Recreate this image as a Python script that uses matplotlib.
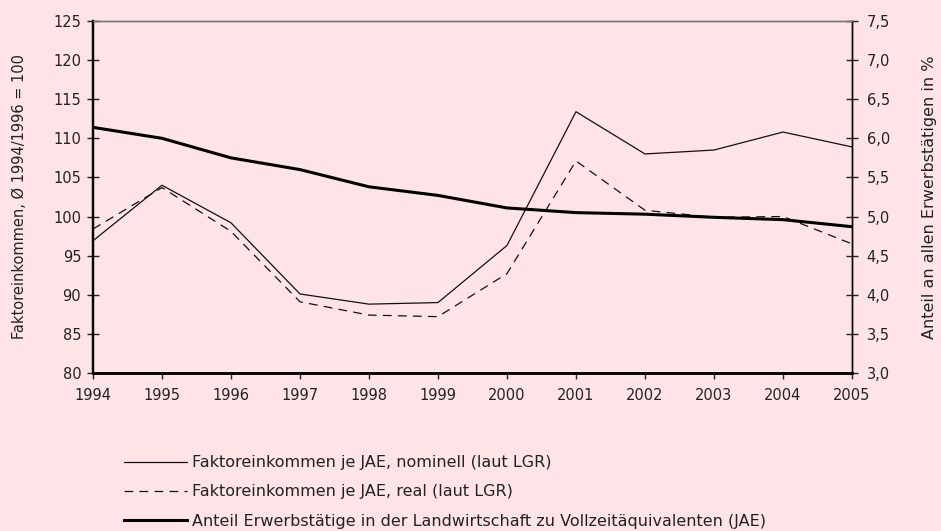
import matplotlib
matplotlib.use('Agg')
import matplotlib.pyplot as plt
from matplotlib.ticker import FuncFormatter
import numpy as np

plt.rcParams['font.family'] = ['DejaVu Sans']

years = [1994, 1995, 1996, 1997, 1998, 1999, 2000, 2001, 2002, 2003, 2004, 2005]
nominell = [96.9, 104.0, 99.2, 90.1, 88.8, 89.0, 96.3, 113.4, 108.0, 108.5, 110.8, 108.9]
real = [98.4, 103.7, 98.1, 89.1, 87.4, 87.2, 92.7, 107.1, 100.8, 99.9, 100.0, 96.5]
anteil = [6.14, 6.00, 5.75, 5.60, 5.38, 5.27, 5.11, 5.05, 5.03, 4.99, 4.96, 4.87]

labels = ['Faktoreinkommen je JAE, nominell (laut LGR)',
          'Faktoreinkommen je JAE, real (laut LGR)',
          'Anteil Erwerbstätige in der Landwirtschaft zu Vollzeitäquivalenten (JAE)']

bg = '#fee4e7'
fig = plt.figure(figsize=(9.41, 5.31), dpi=100, facecolor=bg)
ax = fig.add_axes([0.0988, 0.2976, 0.8066, 0.6629])
ax.set_facecolor(bg)
ax2 = ax.twinx()

l1, = ax.plot(years, nominell, color='#111111', lw=0.9)
l2, = ax.plot(years, real, color='#111111', lw=0.9, linestyle=(0, (7, 5)))
l3, = ax2.plot(years, anteil, color='#000000', lw=2.2)

ax.set_xlim(1994, 2005)
ax.set_ylim(80, 125)
ax2.set_ylim(3.0, 7.5)
ax.set_xticks(years)
ax.set_yticks(np.arange(80, 126, 5))
ax2.set_yticks(np.arange(3.0, 7.51, 0.5))
ax2.yaxis.set_major_formatter(FuncFormatter(lambda v, p: ('%.1f' % v).replace('.', ',')))

fs = 10.5
tc = '#222222'
ax.tick_params(axis='x', direction='out', length=4, width=1, labelsize=fs, pad=7, colors=tc)
ax.tick_params(axis='y', direction='inout', length=9, width=1, labelsize=fs, pad=4, colors=tc)
ax2.tick_params(axis='y', direction='inout', length=9, width=1, labelsize=fs, pad=6, colors=tc)

for a in (ax, ax2):
    a.spines['top'].set_color('#777777')
    a.spines['top'].set_linewidth(1.0)
    a.spines['left'].set_linewidth(1.6)
    a.spines['bottom'].set_linewidth(1.8)
    a.spines['right'].set_linewidth(1.0)
    for s in ('left', 'bottom', 'right'):
        a.spines[s].set_color('black')

ax.set_ylabel('Faktoreinkommen, Ø 1994/1996 = 100', fontsize=10.5, color=tc, labelpad=19)
ax2.set_ylabel('Anteil an allen Erwerbstätigen in %', fontsize=11.5, color=tc, labelpad=23)

fig.legend([l1, l2, l3], labels, loc='lower left', bbox_to_anchor=(0.122, -0.014),
           frameon=False, fontsize=11.5, handlelength=3.95, handletextpad=0.3,
           labelspacing=0.9, borderaxespad=0.2, labelcolor=tc)

fig.savefig('out.png', dpi=100, facecolor=bg)
